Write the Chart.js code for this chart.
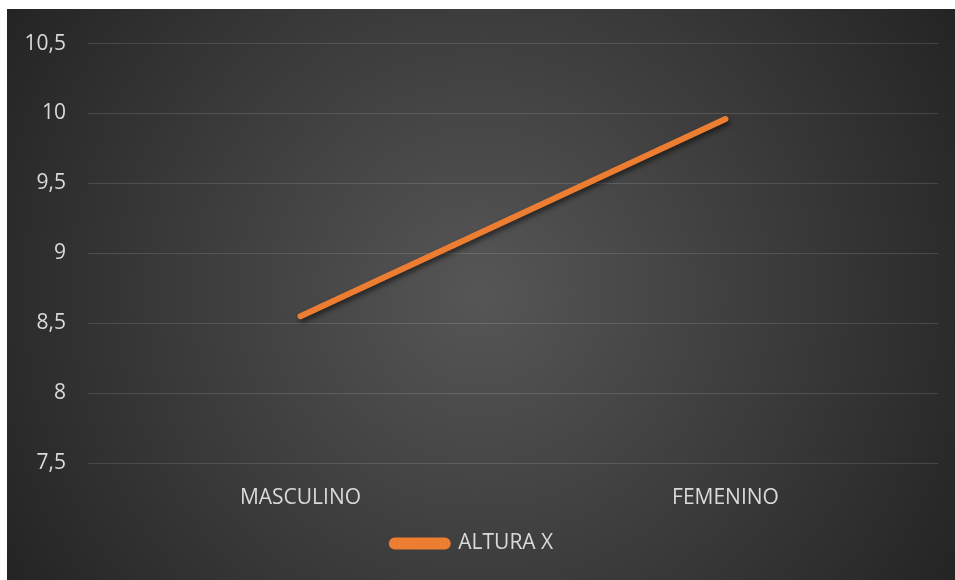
<!DOCTYPE html>
<html>
<head>
<meta charset="utf-8">
<script src="https://cdn.jsdelivr.net/npm/chart.js@4/dist/chart.umd.min.js"></script>
<style>
  html, body { margin: 0; padding: 0; background: #ffffff; }
  #wrap { position: absolute; left: 7px; top: 9px; width: 948px; height: 571px; }
</style>
</head>
<body>
<div id="wrap"><canvas id="chart"></canvas></div>
<script>
const categories = ['MASCULINO', 'FEMENINO'];
const seriesName = 'ALTURA X';
const alturaX = [8.55, 9.96];
const yTicks = [7.5, 8, 8.5, 9, 9.5, 10, 10.5];

const textColor = '#d9d9d9';
const lineColor = '#ed7d31';
const fontFamily = '"Open Sans", Lato, sans-serif';
const fontSize = 21;

// Dark radial backdrop behind the whole chart
const backdrop = {
  id: 'backdrop',
  beforeDraw(chart) {
    const { ctx, width, height } = chart;
    const cx = width / 2, cy = height / 2;
    const r = Math.sqrt(cx * cx + cy * cy);
    const g = ctx.createRadialGradient(cx, cy, 0, cx, cy, r);
    g.addColorStop(0, '#565656');
    g.addColorStop(1, '#242424');
    ctx.save();
    ctx.fillStyle = g;
    ctx.fillRect(0, 0, width, height);
    ctx.restore();
  }
};

// Soft shadow under the series line
const lineShadow = {
  id: 'lineShadow',
  beforeDatasetDraw(chart) {
    const ctx = chart.ctx;
    ctx.save();
    ctx.shadowColor = 'rgba(0,0,0,0.55)';
    ctx.shadowBlur = 5;
    ctx.shadowOffsetX = 2;
    ctx.shadowOffsetY = 3;
  },
  afterDatasetDraw(chart) {
    chart.ctx.restore();
  }
};

new Chart(document.getElementById('chart'), {
  type: 'line',
  data: {
    labels: categories,
    datasets: [{
      label: seriesName,
      data: alturaX,
      borderColor: lineColor,
      backgroundColor: lineColor,
      borderWidth: 6,
      borderCapStyle: 'round',
      pointRadius: 0,
      pointHoverRadius: 0,
      tension: 0
    }]
  },
  options: {
    responsive: true,
    maintainAspectRatio: false,
    animation: false,
    layout: { autoPadding: false, padding: { left: 0, right: 17, top: 24, bottom: 16 } },
    plugins: {
      tooltip: { enabled: false },
      legend: {
        position: 'bottom',
        labels: {
          color: textColor,
          font: { family: fontFamily, size: fontSize },
          boxWidth: 56,
          boxHeight: 6,
          padding: 10,
          useBorderRadius: true,
          borderRadius: 3
        }
      }
    },
    scales: {
      x: {
        offset: true,
        grid: { display: false, drawTicks: false },
        border: { display: false },
        ticks: {
          color: textColor,
          font: { family: fontFamily, size: fontSize },
          padding: 22,
          maxRotation: 0
        },
        afterFit(scale) { scale.height = 60; }
      },
      y: {
        min: 7.5,
        max: 10.5,
        afterBuildTicks(scale) { scale.ticks = yTicks.map(v => ({ value: v })); },
        grid: { color: 'rgba(255,255,255,0.13)', lineWidth: 1, drawTicks: false },
        border: { display: false },
        ticks: {
          color: textColor,
          font: { family: fontFamily, size: fontSize },
          padding: 22,
          callback: v => String(v).replace('.', ',')
        },
        afterFit(scale) { scale.width = 81; }
      }
    }
  },
  plugins: [backdrop, lineShadow]
});
</script>
</body>
</html>
